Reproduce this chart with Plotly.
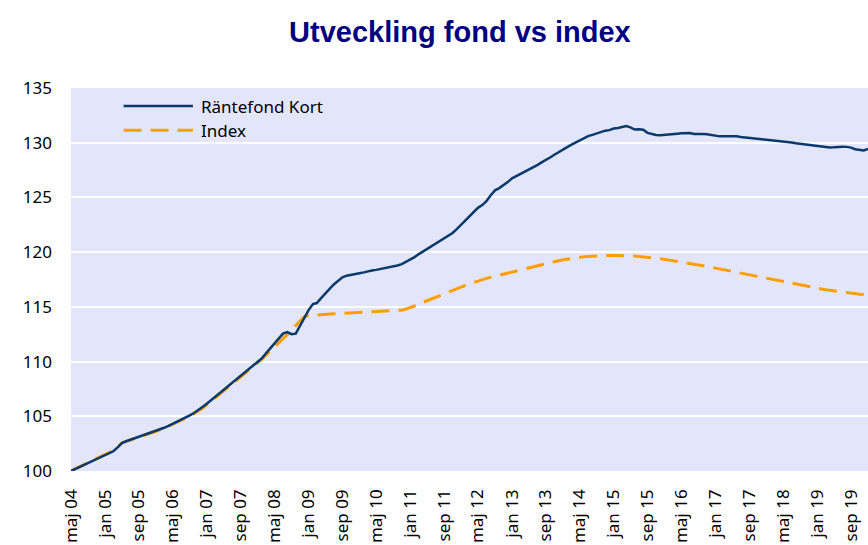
import pandas as pd
import plotly.graph_objects as go

# Monthly index values, base 100 in May 2004
start_month = "2004-05-01"

fund_values = [
    100.00, 100.18, 100.35, 100.55, 100.72, 100.90, 101.08, 101.27, 101.45, 101.62,
    101.80, 102.15, 102.55, 102.72, 102.85, 103.00, 103.12, 103.25, 103.38, 103.52,
    103.68, 103.82, 103.95, 104.12, 104.30, 104.48, 104.65, 104.88, 105.08, 105.30,
    105.55, 105.85, 106.15, 106.48, 106.80, 107.12, 107.45, 107.78, 108.10, 108.42,
    108.75, 109.05, 109.35, 109.68, 110.00, 110.30, 110.75, 111.20, 111.60, 112.05,
    112.55, 112.70, 112.50, 112.55, 113.30, 114.00, 114.70, 115.25, 115.35, 115.80,
    116.25, 116.65, 117.05, 117.40, 117.70, 117.85, 117.95, 118.02, 118.08, 118.15,
    118.25, 118.32, 118.38, 118.45, 118.52, 118.60, 118.68, 118.78, 118.90, 119.10,
    119.30, 119.55, 119.80, 120.05, 120.30, 120.55, 120.78, 121.00, 121.25, 121.50,
    121.75, 122.10, 122.50, 122.90, 123.35, 123.75, 124.05, 124.30, 124.65, 125.20,
    125.65, 125.85, 126.10, 126.40, 126.75, 126.95, 127.10, 127.35, 127.55, 127.70,
    127.95, 128.20, 128.40, 128.65, 128.90, 129.15, 129.40, 129.60, 129.80, 130.00,
    130.20, 130.40, 130.60, 130.72, 130.85, 131.00, 131.10, 131.15, 131.30, 131.35,
    131.40, 131.52, 131.40, 131.20, 131.22, 131.18, 130.90, 130.78, 130.70, 130.68,
    130.70, 130.74, 130.78, 130.82, 130.86, 130.90, 130.88, 130.80, 130.82, 130.80,
    130.78, 130.70, 130.60, 130.58, 130.58, 130.60, 130.56, 130.58, 130.52, 130.48,
    130.46, 130.44, 130.40, 130.30, 130.28, 130.25, 130.20, 130.17, 130.14, 130.10,
    130.02, 129.95, 129.90, 129.84, 129.78, 129.70, 129.66, 129.60, 129.58, 129.57,
    129.58, 129.62, 129.64, 129.62, 129.55, 129.40, 129.34, 129.30, 129.42,
]

index_values = [
    100.00, 100.20, 100.38, 100.56, 100.75, 100.93, 101.12, 101.32, 101.52, 101.70,
    101.88, 102.20, 102.55, 102.70, 102.82, 102.96, 103.08, 103.20, 103.33, 103.47,
    103.62, 103.77, 103.92, 104.08, 104.25, 104.42, 104.60, 104.80, 105.00, 105.22,
    105.46, 105.74, 106.04, 106.36, 106.68, 107.00, 107.33, 107.66, 107.98, 108.30,
    108.63, 108.95, 109.26, 109.58, 109.90, 110.22, 110.58, 110.95, 111.32, 111.68,
    112.05, 112.45, 112.85, 113.30, 113.75, 114.10, 114.20, 114.24, 114.27, 114.30,
    114.32, 114.34, 114.36, 114.38, 114.40, 114.42, 114.44, 114.46, 114.48, 114.50,
    114.51, 114.53, 114.54, 114.56, 114.57, 114.59, 114.61, 114.64, 114.70, 114.80,
    114.93, 115.07, 115.22, 115.40, 115.56, 115.72, 115.88, 116.04, 116.20, 116.36,
    116.52, 116.67, 116.82, 116.96, 117.10, 117.24, 117.37, 117.50, 117.60, 117.70,
    117.80, 117.90, 118.00, 118.10, 118.20, 118.30, 118.40, 118.50, 118.58, 118.67,
    118.76, 118.85, 118.94, 119.03, 119.12, 119.22, 119.31, 119.38, 119.44, 119.50,
    119.55, 119.58, 119.61, 119.64, 119.66, 119.68, 119.69, 119.70, 119.70, 119.70,
    119.69, 119.68, 119.66, 119.64, 119.61, 119.58, 119.54, 119.50, 119.45, 119.40,
    119.34, 119.28, 119.22, 119.16, 119.10, 119.04, 118.98, 118.92, 118.85, 118.77,
    118.70, 118.62, 118.54, 118.46, 118.39, 118.31, 118.23, 118.15, 118.08, 118.00,
    117.92, 117.85, 117.78, 117.70, 117.63, 117.56, 117.48, 117.40, 117.32, 117.24,
    117.16, 117.08, 117.00, 116.92, 116.84, 116.77, 116.70, 116.63, 116.57, 116.51,
    116.45, 116.40, 116.35, 116.30, 116.25, 116.20, 116.16, 116.12, 116.08,
]

tick_labels = [
    "maj 04", "jan 05", "sep 05", "maj 06", "jan 07", "sep 07", "maj 08", "jan 09",
    "sep 09", "maj 10", "jan 11", "sep 11", "maj 12", "jan 13", "sep 13", "maj 14",
    "jan 15", "sep 15", "maj 16", "jan 17", "sep 17", "maj 18", "jan 19", "sep 19",
]

series_names = ["Räntefond Kort", "Index"]

months = pd.date_range(start_month, periods=len(fund_values), freq="MS")
tick_dates = months[::8][: len(tick_labels)]

FUND_COLOR = "#0A3A6B"
INDEX_COLOR = "#FF9E00"
FONT = "Noto Sans"

fig = go.Figure()
fig.add_trace(go.Scatter(
    x=months, y=index_values, mode="lines", name=series_names[1],
    line=dict(color=INDEX_COLOR, width=3, dash="18px,9px"),
    showlegend=False, hoverinfo="skip",
))
fig.add_trace(go.Scatter(
    x=months, y=fund_values, mode="lines", name=series_names[0],
    line=dict(color=FUND_COLOR, width=2.5),
    showlegend=False,
))

# Legend drawn inside the plot area
legend_rows = [(0.953, FUND_COLOR, "solid"), (0.890, INDEX_COLOR, "18px,9px")]
for (ypos, col, dsh), label in zip(legend_rows, series_names):
    fig.add_shape(
        type="line", xref="paper", yref="paper",
        x0=0.066, x1=0.153, y0=ypos, y1=ypos,
        line=dict(color=col, width=3 if col == INDEX_COLOR else 2.5, dash=dsh),
    )
    fig.add_annotation(
        xref="paper", yref="paper", x=0.161, y=ypos, text=label,
        showarrow=False, xanchor="left", yanchor="middle",
        font=dict(family=FONT, size=17, color="#000000"),
    )

fig.update_layout(
    width=868, height=545,
    margin=dict(l=71, r=0, t=88, b=74),
    paper_bgcolor="#FFFFFF",
    plot_bgcolor="#E3E5FA",
    title=dict(
        text="<b>Utveckling fond vs index</b>",
        font=dict(family="Liberation Sans", size=29, color="#000080"),
        x=0.488, xref="paper", xanchor="center",
        y=1 - 32 / 545, yref="container", yanchor="middle",
    ),
    font=dict(family=FONT, size=17, color="#000000"),
)
fig.update_xaxes(
    range=[months[0], months[-1]],
    tickvals=tick_dates, ticktext=tick_labels, tickangle=-90,
    showgrid=False, zeroline=False, showline=False, ticks="",
    ticklabelstandoff=14,
    tickfont=dict(family=FONT, size=17, color="#000000"),
)
fig.update_yaxes(
    range=[100, 135], dtick=5, tick0=100,
    showgrid=True, gridcolor="#FFFFFF", gridwidth=2,
    zeroline=False, showline=False, ticks="",
    ticklabelstandoff=18,
    tickfont=dict(family=FONT, size=17, color="#000000"),
)

fig.write_html("out.html")
